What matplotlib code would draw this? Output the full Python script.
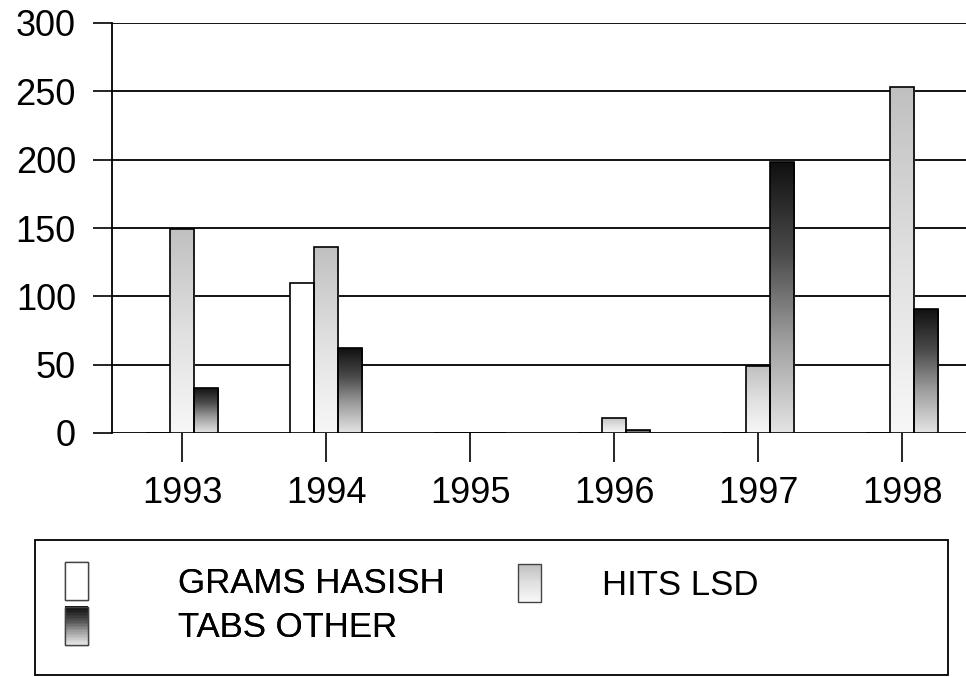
import numpy as np
import matplotlib
matplotlib.use("Agg")
import matplotlib.pyplot as plt
from matplotlib.colors import LinearSegmentedColormap, to_rgb
from matplotlib.patches import Rectangle, Patch
from matplotlib.legend_handler import HandlerBase

plt.rcParams['font.family'] = ['Liberation Sans', 'DejaVu Sans']

# ---- data ----
years = ['1993', '1994', '1995', '1996', '1997', '1998']
grams_hasish = [0, 110, 0, 0, 0, 0]
hits_lsd = [149, 136, 0, 11, 49, 253]
tabs_other = [33, 62, 0, 2, 198, 91]
series_labels = ['GRAMS HASISH', 'HITS LSD', 'TABS OTHER']
y_ticks = [0, 50, 100, 150, 200, 250, 300]

# gradient styles (bottom colour ... top colour)
styles = {
    'GRAMS HASISH': ['#ffffff', '#ffffff'],
    'HITS LSD': ['#f7f7f7', '#e0e0e0', '#c0c0c0'],
    'TABS OTHER': ['#e4e4e4', '#a0a0a0', '#4a4a4a', '#101010'],
}

fig = plt.figure(figsize=(9.66, 6.77), dpi=100)
ax = fig.add_axes([112 / 966, 1 - 433 / 677, 1 - 112 / 966, (433 - 23) / 677])

x = np.arange(len(years))
w = 0.167
all_series = [grams_hasish, hits_lsd, tabs_other]
offsets = [-w, 0, w]

for vals, off, lab in zip(all_series, offsets, series_labels):
    bars = ax.bar(x + off, vals, width=w, facecolor='none', edgecolor='black',
                  linewidth=1.2, zorder=3, label=lab)
    cmap = LinearSegmentedColormap.from_list(lab, styles[lab])
    for p in bars.patches:
        h = p.get_height()
        if h <= 0:
            continue
        x0 = p.get_x()
        im = ax.imshow(np.linspace(1, 0, 256).reshape(-1, 1), cmap=cmap,
                       vmin=0, vmax=1, extent=[x0, x0 + p.get_width(), 0, h],
                       origin='upper', aspect='auto', zorder=2.5,
                       interpolation='bilinear')
        im.set_clip_path(p)

ax.set_xlim(-0.486, 5.444)
ax.set_ylim(0, 300)
ax.set_yticks(y_ticks)
ax.set_xticks(x)
ax.set_xticklabels(years)
ax.grid(axis='y', color='black', linewidth=1.3)
ax.set_axisbelow(True)
for s in ['top', 'right', 'bottom']:
    ax.spines[s].set_visible(False)
ax.spines['left'].set_linewidth(1.3)
ax.tick_params(axis='y', length=14, width=1.2, pad=12, labelsize=26)
ax.tick_params(axis='x', direction='out', length=21, width=1.2, pad=10, labelsize=26)


class GradHandler(HandlerBase):
    def __init__(self, colors, n=24):
        super().__init__()
        self.cmap = LinearSegmentedColormap.from_list('h', colors)
        self.n = n

    def create_artists(self, legend, orig_handle, xdescent, ydescent,
                       width, height, fontsize, trans):
        arts = []
        for i in range(self.n):
            c = self.cmap(i / (self.n - 1))
            arts.append(Rectangle((-xdescent, -ydescent + height * i / self.n),
                                  width, height / self.n + 0.3, facecolor=c,
                                  edgecolor='none', transform=trans))
        arts.append(Rectangle((-xdescent, -ydescent), width, height,
                              facecolor='none', edgecolor='#444444',
                              linewidth=1.0, transform=trans))
        return arts


h_has = Patch(label='GRAMS HASISH')
h_lsd = Patch(label='HITS LSD')
h_oth = Patch(label='TABS OTHER')
hmap = {h_has: GradHandler(styles['GRAMS HASISH']),
        h_lsd: GradHandler(styles['HITS LSD']),
        h_oth: GradHandler(styles['TABS OTHER'])}

leg_kw = dict(handler_map=hmap, loc='upper left', bbox_transform=fig.transFigure,
              frameon=False, borderpad=0, fontsize=25, handlelength=0.66,
              handleheight=1.3, borderaxespad=0)
leg1 = fig.legend(handles=[h_has, h_oth], labels=['GRAMS HASISH', 'TABS OTHER'],
                  bbox_to_anchor=(65 / 966, 1 - 562 / 677),
                  handletextpad=2.6, labelspacing=0.2, **leg_kw)
fig.add_artist(leg1)
leg2 = fig.legend(handles=[h_lsd], labels=['HITS LSD'],
                  bbox_to_anchor=(518 / 966, 1 - 564 / 677),
                  handletextpad=1.75, **leg_kw)

fig.add_artist(Rectangle((35 / 966, 1 - 675 / 677), (948 - 35) / 966,
                         (675 - 540) / 677, transform=fig.transFigure,
                         fill=False, edgecolor='black', linewidth=1.3))

fig.savefig('out.png', dpi=100)
